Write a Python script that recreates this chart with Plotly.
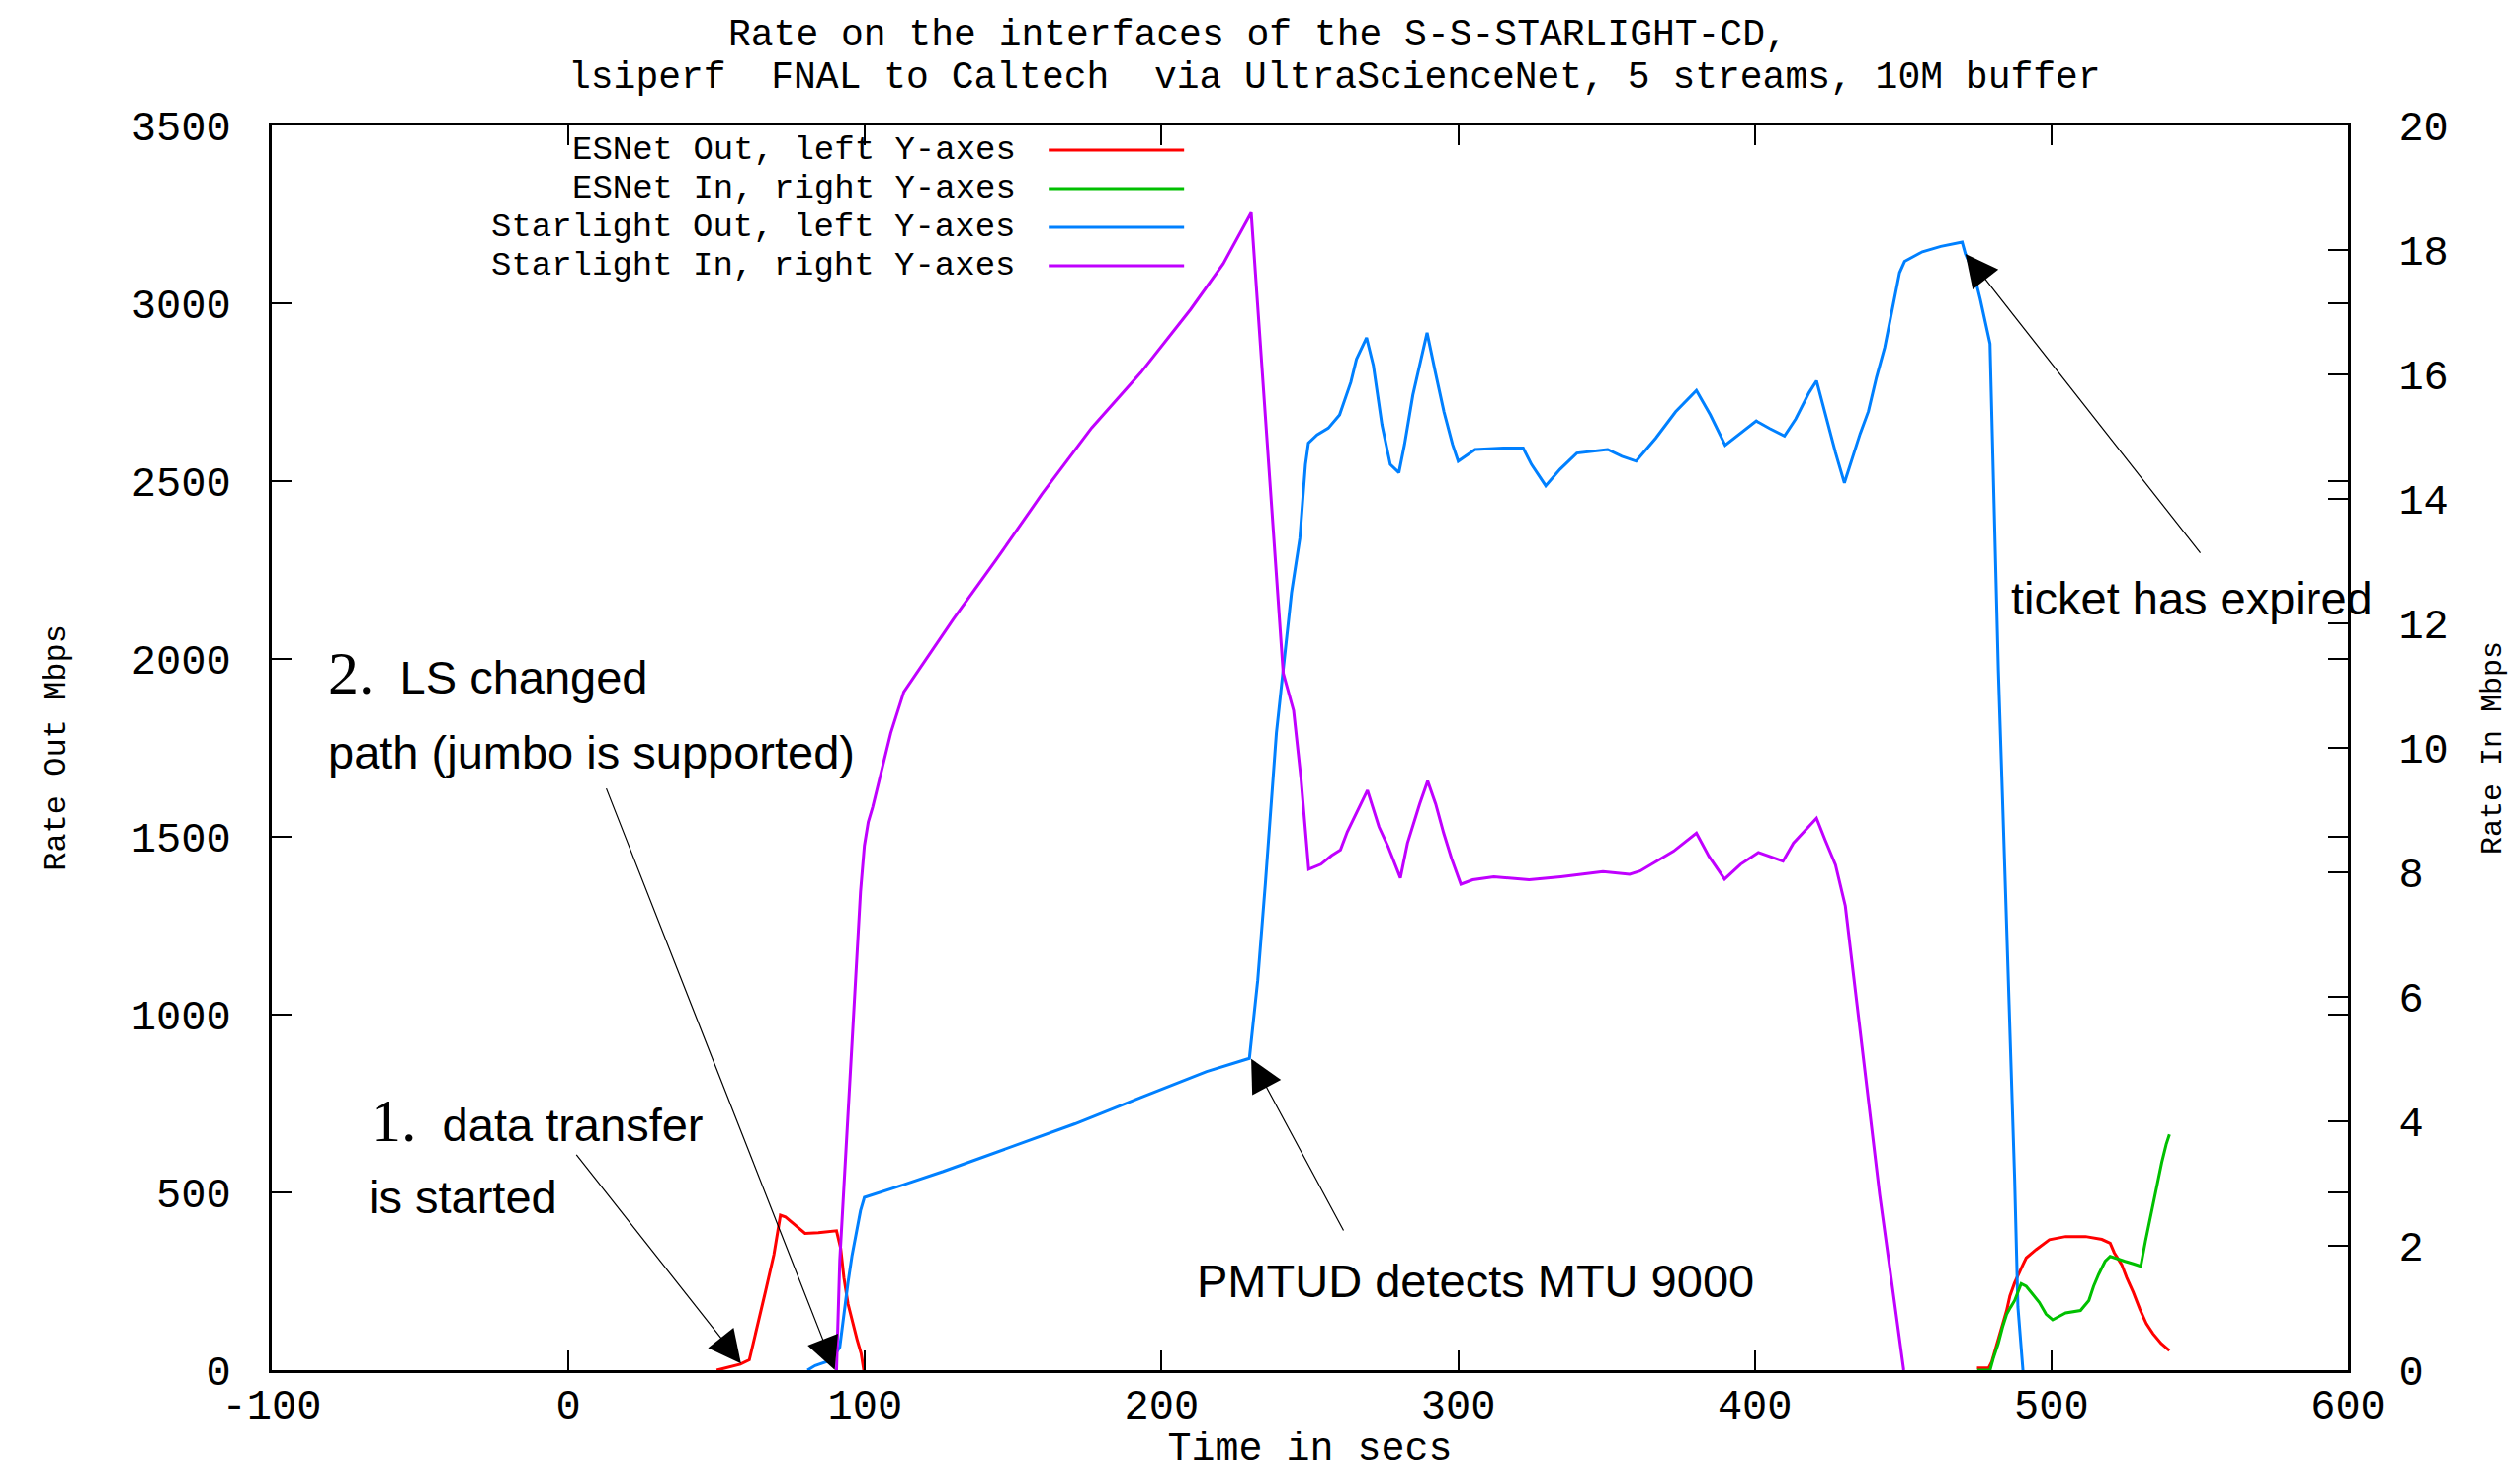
import plotly.graph_objects as go

# ---------------- data ----------------
# ESNet Out (left axis, Mbps) -- None marks the gap where nothing is drawn
esnet_out_t = [50, 55, 58, 61, 63.7, 66.5, 69.3, 71.5, 73.2, 76.5, 79.8, 84.3, 90.4, 91.8, 92.9,
               94.3, 95.9, 97.4, 98.7, 99.6, None, 474.9, 478.8, 479.9, 482.1, 483.5, 484.9, 486,
               487.6, 490.4, 491.5, 494.8, 499.3, 504.8, 511.5, 517, 519.8, 521.2, 523.7, 525.4,
               527.6, 529.8, 532, 534.2, 537, 539.8]
esnet_out_mbps = [0, 10, 17, 29, 121, 223, 325, 436, 431, 408, 385, 387, 392, 343, 260,
                  186, 131, 84, 47, 0, None, 6, 6, 24, 89, 131, 168, 209,
                  246, 297, 316, 339, 367, 376, 376, 368, 357, 330, 297, 260,
                  219, 172, 131, 103, 75, 55]

# ESNet In (right axis, Mbps)
esnet_in_t = [475, 479.3, 480.4, 482.1, 483.5, 484.9, 486.2, 487.6, 489.8, 491.5, 493.2, 495.9,
              498.2, 500.4, 504.8, 509.8, 512.6, 514.2, 515.9, 518.1, 519.8, 522, 524.8, 527.6,
              530.1, 531.7, 533.1, 534.5, 535.9, 537.2, 538.7, 539.8]
esnet_in_mbps = [0, 0, 0.19, 0.43, 0.69, 0.9, 1.01, 1.12, 1.39, 1.35, 1.25, 1.09,
                 0.9, 0.81, 0.92, 0.96, 1.12, 1.35, 1.54, 1.75, 1.83, 1.8, 1.75, 1.71,
                 1.67, 2.07, 2.39, 2.76, 3.05, 3.34, 3.63, 3.79]

# Starlight Out (left axis, Mbps)
starlight_out_t = [80.6, 83.2, 87, 89.8, 91.5, 92.9, 94.3, 95.6, 97, 98.5, 99.8, 105.4, 113.1,
                   126.4, 148.6, 170.8, 193, 215.2, 229.6, 232.4, 235, 238.7, 240.2, 243.8,
                   246.6, 248.5, 249.5, 252.4, 256.2, 260, 263.8, 265.7, 269.1, 271.4, 274.3,
                   277.1, 280, 281.9, 284.7, 289.5, 292.3, 295.2, 298.1, 300, 305.7, 315.2,
                   321.9, 324.7, 329.5, 334.3, 340, 350.4, 355.2, 360, 366.6, 373.3, 380.3,
                   385, 390, 395, 400.5, 405, 410, 413.8, 418.3, 420.8, 423.8, 427.2, 430.2,
                   432.7, 435.5, 438.3, 441, 443.8, 446, 448.8, 450.5, 456.5, 462.7, 469.9,
                   471, 473.8, 476, 478.2, 479.3, 481, 482.1, 483.5, 484.9, 486.3, 487.6,
                   488.7, 490.4]
starlight_out_mbps = [0, 13, 24, 43, 65, 162, 248, 321, 382, 449, 486, 502, 522,
                      559, 626, 693, 767, 840, 877, 1096, 1371, 1792, 1908, 2186,
                      2339, 2547, 2607, 2630, 2649, 2686, 2778, 2843, 2903, 2825, 2658,
                      2547, 2524, 2603, 2742, 2917, 2806, 2695, 2603, 2556, 2589, 2593,
                      2593, 2547, 2487, 2533, 2579, 2589, 2570, 2556, 2621, 2695, 2755,
                      2686, 2601, 2633, 2669, 2648, 2627, 2675, 2749, 2782, 2686, 2580, 2495,
                      2559, 2633, 2696, 2791, 2876, 2970, 3086, 3118, 3145, 3160, 3172,
                      3139, 3086, 3012, 2928, 2886, 2327, 1969, 1611, 1253, 894, 536,
                      178, 0]

# Starlight In (right axis, Mbps)
starlight_in_t = [90.4, 91.5, 92.9, 94.3, 95.6, 97, 98.5, 99.8, 101.1, 102.6, 105.4, 108.7,
                  113.1, 129.8, 144.2, 159.7, 176.4, 193, 209.7, 220.8, 230.2, 233.5, 237.4,
                  241, 244.5, 247, 249.6, 253.7, 257.3, 260.3, 262.6, 266.8, 269.4, 273.3,
                  276.3, 280.5, 282.9, 287, 289.7, 292.4, 295.1, 297.7, 300.9, 304.9, 312,
                  323.9, 334.6, 348.8, 357.8, 361.3, 372.6, 380.3, 384.5, 389.8, 395.2,
                  401.2, 409.5, 413, 420.8, 423.7, 427.2, 430.5, 434.4, 438.3, 442.1,
                  446.6, 450.2]
starlight_in_mbps = [0, 1.76, 2.95, 4.14, 5.32, 6.51, 7.69, 8.43, 8.81, 9.05, 9.61, 10.24,
                     10.9, 12.07, 13.02, 14.08, 15.14, 16.03, 17.04, 17.78, 18.6, 16.35, 13.6,
                     11.2, 10.6, 9.5, 8.05, 8.13, 8.27, 8.36, 8.65, 9.05, 9.32, 8.73,
                     8.42, 7.91, 8.47, 9.1, 9.47, 9.1, 8.63, 8.23, 7.81, 7.88, 7.93,
                     7.88, 7.93, 8.01, 7.97, 8.02, 8.34, 8.63, 8.26, 7.89, 8.13,
                     8.32, 8.18, 8.47, 8.87, 8.52, 8.12, 7.46, 5.89, 4.39, 2.82,
                     1.26, 0]

series_names = ["ESNet Out, left Y-axes", "ESNet In, right Y-axes",
                "Starlight Out, left Y-axes", "Starlight In, right Y-axes"]
series_colors = ["#ff0000", "#00c000", "#0080ff", "#c000ff"]

x_tick_vals = [-100, 0, 100, 200, 300, 400, 500, 600]
x_tick_text = ["-100", "0", "100", "200", "300", "400", "500", "600"]
y_left_ticks = [0, 500, 1000, 1500, 2000, 2500, 3000, 3500]
y_right_ticks = [0, 2, 4, 6, 8, 10, 12, 14, 16, 18, 20]

title_line1 = "Rate on the interfaces of the S-S-STARLIGHT-CD,"
title_line2 = "lsiperf  FNAL to Caltech  via UltraScienceNet, 5 streams, 10M buffer"

# ---------------- figure ----------------
MONO = "Liberation Mono"
SANS = "Liberation Sans, Arial"

fig = go.Figure()
series = [
    (esnet_out_t, esnet_out_mbps, "y"),
    (esnet_in_t, esnet_in_mbps, "y2"),
    (starlight_out_t, starlight_out_mbps, "y"),
    (starlight_in_t, starlight_in_mbps, "y2"),
]
for (t, v, ax), name, col in zip(series, series_names, series_colors):
    fig.add_trace(go.Scatter(x=t, y=v, mode="lines", name=name, yaxis=ax,
                             line=dict(color=col, width=3), showlegend=False,
                             connectgaps=False, cliponaxis=True))

axis_common = dict(showgrid=False, zeroline=False, showline=True, linecolor="black",
                   linewidth=3, ticks="inside", ticklen=20, tickwidth=2, tickcolor="black",
                   tickfont=dict(family=MONO, size=42, color="black"))

fig.update_layout(
    width=2542, height=1482,
    paper_bgcolor="white", plot_bgcolor="white",
    margin=dict(l=267, r=174, t=119, b=103, autoexpand=False),
    showlegend=False,
    xaxis=dict(range=[-100, 600], tickvals=x_tick_vals, ticktext=x_tick_text,
               mirror="ticks", ticklabelstandoff=-4,
               title=dict(text="Time in secs", font=dict(family=MONO, size=40, color="black"),
                          standoff=10),
               **axis_common),
    yaxis=dict(range=[0, 3500], tickvals=y_left_ticks, mirror="ticks",
               ticklabelstandoff=30,
               title=dict(text="Rate Out Mbps", font=dict(family=MONO, size=32, color="black"),
                          standoff=57),
               **axis_common),
    yaxis2=dict(range=[0, 20], tickvals=y_right_ticks, overlaying="y", side="right",
                ticklabelstandoff=40,
                title=dict(text="Rate In Mbps", font=dict(family=MONO, size=30, color="black"),
                           standoff=34),
                **axis_common),
)

annotations = []
# title lines
annotations.append(dict(text=title_line1, xref="paper", yref="paper", x=0.4748, y=1.0730,
                        xanchor="center", yanchor="middle", showarrow=False,
                        font=dict(family=MONO, size=38, color="black")))
annotations.append(dict(text=title_line2, xref="paper", yref="paper", x=0.5119, y=1.0385,
                        xanchor="center", yanchor="middle", showarrow=False,
                        font=dict(family=MONO, size=38, color="black")))

# key (text right-aligned, sample line on the right, like gnuplot)
key_y = [0.9802, 0.9492, 0.9183, 0.8873]
shapes = []
for name, col, ky in zip(series_names, series_colors, key_y):
    annotations.append(dict(text=name, xref="paper", yref="paper", x=0.3595, y=ky,
                            xanchor="right", yanchor="middle", showarrow=False,
                            font=dict(family=MONO, size=34, color="black")))
    shapes.append(dict(type="line", xref="paper", yref="paper", x0=0.3742, x1=0.4394,
                       y0=ky, y1=ky, line=dict(color=col, width=3)))

# hand-written style notes
note_font = dict(family=SANS, size=47, color="black")
big = "<span style='font-family:Liberation Serif;font-size:62px'>%s</span>"
notes = [
    (big % "2." + "  LS changed", 0.0264, 0.5600),
    ("path (jumbo is supported)", 0.0264, 0.4966),
    (big % "1." + "  data transfer", 0.0465, 0.2010),
    ("is started", 0.0457, 0.1391),
    ("PMTUD detects MTU 9000", 0.4446, 0.0716),
    ("ticket has expired", 0.8366, 0.6200),
]
for txt, nx, ny in notes:
    annotations.append(dict(text=txt, xref="paper", yref="paper", x=nx, y=ny,
                            xanchor="left", yanchor="middle", showarrow=False,
                            font=note_font))

# arrows: (tip x, tip y, tail x, tail y) in data units of the left axis
arrows = [
    (58.2, 19, 2.3, 610),
    (89.8, 1, 12.6, 1640),
    (230.2, 876, 261.6, 389),
    (471, 3139, 550.6, 2294),
]
for tx, ty, sx, sy in arrows:
    annotations.append(dict(text="", x=tx, y=ty, ax=sx, ay=sy, xref="x", yref="y",
                            axref="x", ayref="y", showarrow=True, arrowhead=2,
                            arrowsize=5.5, arrowwidth=1.2, arrowcolor="black", standoff=0))

fig.update_layout(annotations=annotations, shapes=shapes)

fig.write_html("out.html")
